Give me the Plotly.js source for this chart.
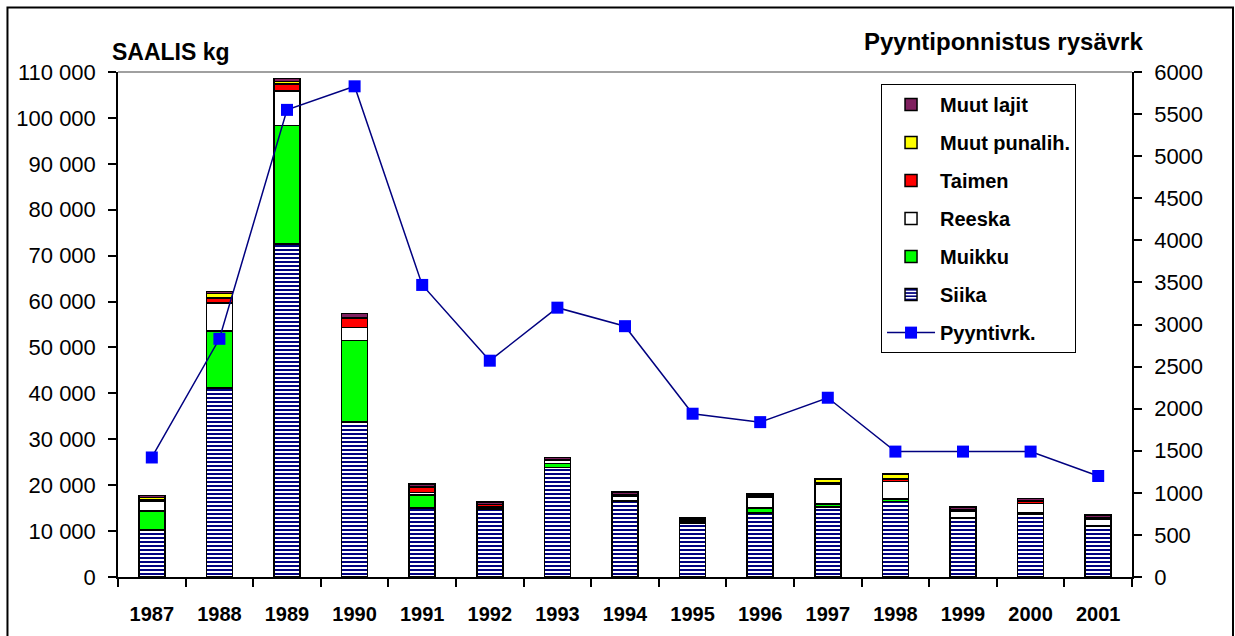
<!DOCTYPE html>
<html>
<head>
<meta charset="utf-8">
<script src="https://cdn.plot.ly/plotly-3.0.1.min.js"></script>
<style>
  html, body { margin: 0; padding: 0; background: #fff; }
  #chart { width: 1235px; height: 636px; }
</style>
</head>
<body>
<div id="chart"></div>
<script>
// ---- data ----
const years = ['1987','1988','1989','1990','1991','1992','1993','1994','1995','1996','1997','1998','1999','2000','2001'];
const siika       = [10200, 41200, 72500, 33800, 15000, 14800, 23800, 16400, 11800, 13900, 15200, 16400, 12900, 13700, 11000];
const muikku      = [4200, 12400, 25800, 17700, 2900, 100, 900, 300, 100, 1100, 700, 600, 100, 400, 100];
const reeska      = [2200, 6100, 7600, 2800, 500, 300, 700, 900, 300, 2300, 4200, 3800, 1300, 1900, 1500];
const taimen      = [300, 1100, 1500, 2000, 1100, 600, 100, 300, 100, 100, 400, 500, 100, 600, 100];
const muutPunalih = [400, 1000, 500, 100, 200, 0, 100, 100, 100, 200, 800, 1000, 200, 100, 200];
const muutLajit   = [400, 400, 700, 1000, 600, 500, 400, 500, 400, 500, 50, 100, 650, 400, 600];
const pyyntivrk   = [1420, 2830, 5550, 5830, 3470, 2570, 3200, 2980, 1940, 1840, 2130, 1490, 1490, 1490, 1200];

const FONT = 'Liberation Sans, Arial, sans-serif';
const barLine = { color: '#000000', width: 1.5 };

function barTrace(name, vals, color, rank, extra) {
  return {
    type: 'bar', name: name, x: years, y: vals,
    marker: Object.assign({ color: color, line: barLine }, extra || {}),
    legendrank: rank, legendgroup: name, yaxis: 'y', xaxis: 'x',
    hoverinfo: 'x+y+name'
  };
}

const traces = [
  barTrace('Siika', siika, '#ffffff', 6, {
    pattern: { shape: '-', fgcolor: '#000080', bgcolor: '#ffffff', size: 4, solidity: 0.5 }
  }),
  barTrace('Muikku', muikku, '#00ff00', 5),
  barTrace('Reeska', reeska, '#ffffff', 4),
  barTrace('Taimen', taimen, '#ff0000', 3),
  barTrace('Muut punalih.', muutPunalih, '#ffff00', 2),
  barTrace('Muut lajit', muutLajit, '#80205f', 1),
  {
    type: 'scatter', mode: 'lines+markers', name: 'Pyyntivrk.',
    x: years, y: pyyntivrk, xaxis: 'x', yaxis: 'y2',
    line: { color: '#000080', width: 1.5 },
    marker: { symbol: 'square', size: 12, color: '#0000ff' },
    legendrank: 7, legendgroup: 'Pyyntivrk.'
  }
];

const boundaries = years.map((_, i) => i - 0.5).concat([years.length - 0.5]);

const layout = {
  width: 1235, height: 636,
  margin: { l: 118, r: 103, t: 72, b: 59 },
  paper_bgcolor: '#ffffff', plot_bgcolor: '#ffffff',
  separators: ', ',
  font: { family: FONT, color: '#000000', size: 20 },
  barmode: 'stack',
  bargap: 0.615,
  showlegend: true,
  legend: {
    x: 0.7525, y: 0.976, xanchor: 'left', yanchor: 'top',
    bgcolor: '#ffffff', bordercolor: '#000000', borderwidth: 1,
    font: { family: FONT, size: 20, weight: 'bold', color: '#000000' },
    tracegroupgap: 9, itemwidth: 48
  },
  xaxis: {
    type: 'category', categoryorder: 'array', categoryarray: years,
    range: [-0.5, years.length - 0.5],
    showline: true, linecolor: '#000000', linewidth: 1.5,
    ticks: 'outside', ticklen: 8, tickcolor: '#000000', tickwidth: 1.5,
    tickson: 'boundaries', showgrid: false, zeroline: false,
    tickfont: { family: FONT, size: 20, weight: 'bold' },
    ticklabelstandoff: 18
  },
  xaxis2: {
    overlaying: 'x', anchor: 'y', type: 'linear',
    range: [-0.5, years.length - 0.5],
    tickmode: 'array', tickvals: boundaries,
    ticks: 'inside', ticklen: 8, tickcolor: '#000000', tickwidth: 1.5,
    showticklabels: false, showline: false, showgrid: false, zeroline: false
  },
  yaxis: {
    range: [0, 110000], dtick: 10000, tickformat: ',d',
    showline: true, linecolor: '#000000', linewidth: 1.5,
    ticks: 'outside', ticklen: 8, tickcolor: '#000000', tickwidth: 1.5,
    showgrid: false, zeroline: false,
    tickfont: { family: FONT, size: 22 },
    ticklabelstandoff: 8
  },
  yaxis2: {
    overlaying: 'y', side: 'right', anchor: 'x',
    range: [0, 6000], dtick: 500, tickformat: 'd',
    showline: true, linecolor: '#000000', linewidth: 1.5,
    ticks: 'outside', ticklen: 8, tickcolor: '#000000', tickwidth: 1.5,
    showgrid: false, zeroline: false,
    tickfont: { family: FONT, size: 22 },
    ticklabelstandoff: 8
  },
  yaxis3: {
    overlaying: 'y', side: 'left', anchor: 'x',
    range: [0, 110000], dtick: 10000,
    ticks: 'inside', ticklen: 8, tickcolor: '#000000', tickwidth: 1.5,
    showticklabels: false, showline: false, showgrid: false, zeroline: false
  },
  yaxis4: {
    overlaying: 'y', side: 'right', anchor: 'x',
    range: [0, 6000], dtick: 500,
    ticks: 'inside', ticklen: 8, tickcolor: '#000000', tickwidth: 1.5,
    showticklabels: false, showline: false, showgrid: false, zeroline: false
  },
  annotations: [
    {
      text: '<b>SAALIS kg</b>', xref: 'paper', yref: 'paper',
      x: -0.008, y: 1.04, xanchor: 'left', yanchor: 'middle',
      showarrow: false, font: { family: FONT, size: 23, color: '#000000' }
    },
    {
      text: '<b>Pyyntiponnistus rysävrk</b>', xref: 'paper', yref: 'paper',
      x: 1.0128, y: 1.061, xanchor: 'right', yanchor: 'middle',
      showarrow: false, font: { family: FONT, size: 24, color: '#000000' }
    }
  ],
  shapes: [
    { type: 'line', xref: 'paper', yref: 'paper', x0: 0, x1: 1, y0: 1, y1: 1,
      line: { color: '#808080', width: 1.5 } },
    { type: 'rect', xref: 'paper', yref: 'paper',
      x0: -0.109, x1: 1.0996, y0: -0.14, y1: 1.1277,
      line: { color: '#000000', width: 2 }, fillcolor: 'rgba(0,0,0,0)', layer: 'above' }
  ]
};

Plotly.newPlot('chart', traces, layout, { displayModeBar: false, responsive: false });
</script>
</body>
</html>
